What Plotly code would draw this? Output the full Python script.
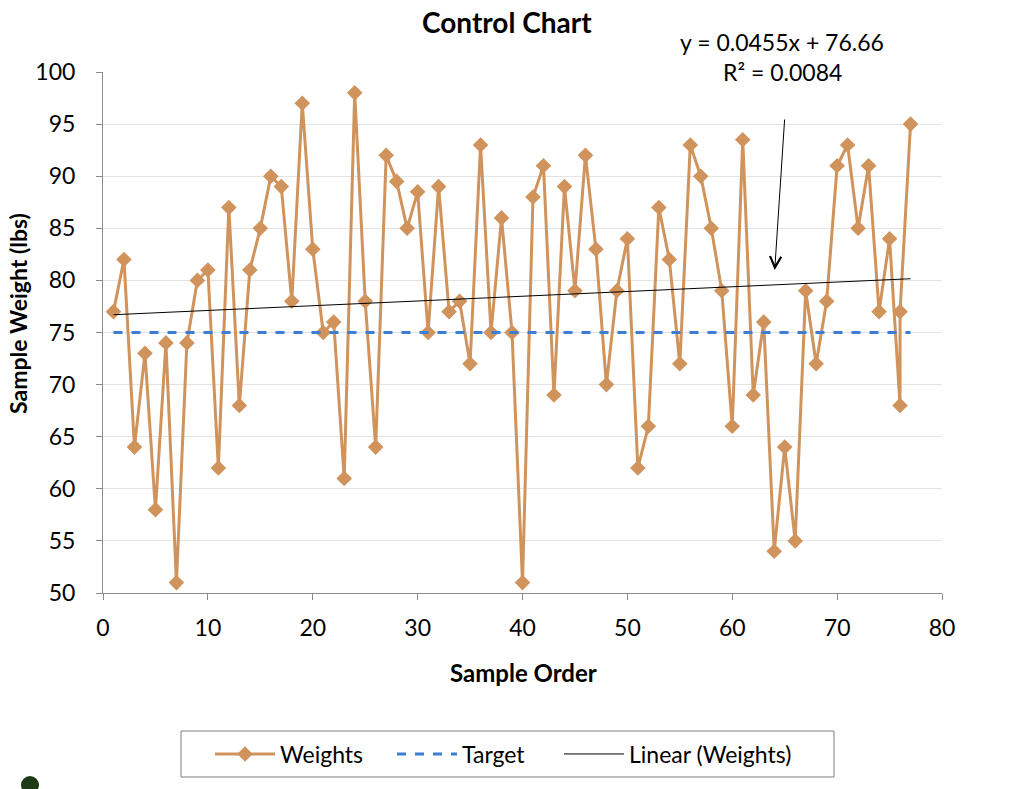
import numpy as np
import plotly.graph_objects as go

sample_order = list(range(1, 77)) + [76, 77]
weights = [77, 82, 64, 73, 58, 74, 51, 74, 80, 81, 62, 87, 68, 81, 85, 90, 89, 78, 97, 83,
           75, 76, 61, 98, 78, 64, 92, 89.5, 85, 88.5, 75, 89, 77, 78, 72, 93, 75, 86, 75, 51,
           88, 91, 69, 89, 79, 92, 83, 70, 79, 84, 62, 66, 87, 82, 72, 93, 90, 85, 79, 66,
           93.5, 69, 76, 54, 64, 55, 79, 72, 78, 91, 93, 85, 91, 77, 84, 68, 77, 95]
target_value = 75
x_ticks = [0, 10, 20, 30, 40, 50, 60, 70, 80]
y_ticks = [50, 55, 60, 65, 70, 75, 80, 85, 90, 95, 100]

FONT = "Lato"
ORANGE = "#D0935C"
BLUE = "#3C7DD6"

# plot area in pixels (for placing paper-referenced items)
L, R, T, B = 103, 942, 72, 593
W, H = R - L, B - T
def px(xp):
    return (xp - L) / W
def py(yp):
    return (B - yp) / H

x = np.array(sample_order, float)
y = np.array(weights, float)
slope, intercept = np.polyfit(x, y, 1)
r2 = np.corrcoef(x, y)[0, 1] ** 2
trend_x = [min(sample_order), max(sample_order)]
trend_y = [slope * v + intercept for v in trend_x]

fig = go.Figure()
fig.add_trace(go.Scatter(
    x=sample_order, y=weights, mode="lines+markers", name="Weights",
    line=dict(color=ORANGE, width=3),
    marker=dict(symbol="diamond", size=12, color=ORANGE),
    legend="legend",
))
fig.add_trace(go.Scatter(
    x=trend_x, y=[target_value, target_value], mode="lines", name="Target",
    line=dict(color=BLUE, width=3, dash="dash"),
    legend="legend2",
))
fig.add_trace(go.Scatter(
    x=trend_x, y=trend_y, mode="lines", name="Linear (Weights)",
    line=dict(color="black", width=1),
    legend="legend3",
))

leg_common = dict(orientation="h", xanchor="left", y=py(754), yanchor="middle",
                  bgcolor="rgba(0,0,0,0)", borderwidth=0, font=dict(size=23), itemwidth=60)

fig.update_layout(
    width=1024, height=789,
    paper_bgcolor="white", plot_bgcolor="white",
    margin=dict(l=L, r=1024 - R, t=T, b=789 - B),
    font=dict(family=FONT, size=23, color="black"),
    showlegend=True,
    legend=dict(x=px(210), **leg_common),
    legend2=dict(x=px(392), **leg_common),
    legend3=dict(x=px(559), **leg_common),
    annotations=[
        dict(text="<b>Control Chart</b>", xref="paper", yref="paper", x=px(507), y=py(22),
             showarrow=False, font=dict(size=28), xanchor="center", yanchor="middle"),
        dict(text="<b>Sample Order</b>", xref="paper", yref="paper", x=px(523), y=py(672),
             showarrow=False, font=dict(size=24), xanchor="center", yanchor="middle"),
        dict(text="<b>Sample Weight (lbs)</b>", xref="paper", yref="paper", x=px(18), y=py(314),
             showarrow=False, font=dict(size=23), textangle=-90, xanchor="center", yanchor="middle"),
        dict(text=f"y = {slope:.4f}x + {intercept:.2f}", xref="paper", yref="paper",
             x=px(782), y=py(42), showarrow=False, font=dict(size=23),
             xanchor="center", yanchor="middle"),
        dict(text=f"R² = {r2:.4f}", xref="paper", yref="paper",
             x=px(782), y=py(72), showarrow=False, font=dict(size=23),
             xanchor="center", yanchor="middle"),
        dict(text="", x=64.05, y=81.0, xref="x", yref="y", axref="pixel", ayref="pixel",
             ax=10, ay=-152, showarrow=True, arrowhead=5, arrowsize=2.2, arrowwidth=1,
             arrowcolor="black"),
    ],
    shapes=[
        dict(type="rect", xref="paper", yref="paper", x0=px(181), x1=px(834),
             y0=py(777), y1=py(731), line=dict(color="#7F7F7F", width=1), fillcolor="rgba(0,0,0,0)"),
        dict(type="circle", xref="paper", yref="paper", x0=px(21), x1=px(39),
             y0=py(794), y1=py(776), fillcolor="#1E3A14", line=dict(width=0)),
    ],
)
fig.update_xaxes(
    range=[0, 80], tickvals=x_ticks, showgrid=False, zeroline=False,
    showline=True, linecolor="#8C8C8C", linewidth=1,
    ticks="outside", ticklen=6, tickcolor="#8C8C8C", tickfont=dict(size=23),
    ticklabelstandoff=8,
)
fig.update_yaxes(
    range=[50, 100], tickvals=y_ticks, showgrid=True, gridcolor="#E3E3E3", gridwidth=1,
    zeroline=False, showline=True, linecolor="#8C8C8C", linewidth=1,
    ticks="outside", ticklen=6, tickcolor="#8C8C8C", tickfont=dict(size=23),
    ticklabelstandoff=16,
)
fig.write_html("out.html")
